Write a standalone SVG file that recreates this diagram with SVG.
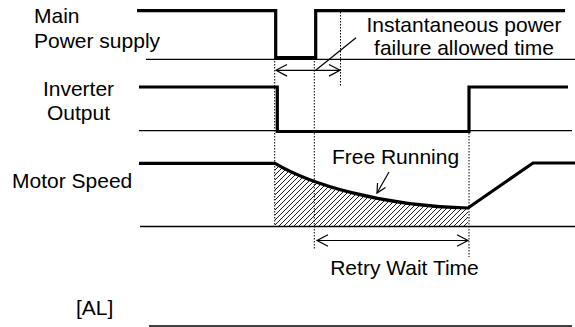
<svg xmlns="http://www.w3.org/2000/svg" width="575" height="327" viewBox="0 0 575 327">
<style>
text{font-family:"Liberation Sans",Arial,sans-serif;font-size:21px;fill:#000}
.thick{fill:none;stroke:#000;stroke-width:3.2;stroke-linejoin:miter}
.base{fill:none;stroke:#000;stroke-width:1.3}
.dot{fill:none;stroke:#000;stroke-width:1;stroke-dasharray:1.5,1.5}
.thin{fill:none;stroke:#000;stroke-width:1.2}
</style>
<defs>
<pattern id="hatch" patternUnits="userSpaceOnUse" width="5" height="5">
<path d="M-1,6 L6,-1 M-1,1 L1,-1 M4,6 L6,4" stroke="#000" stroke-width="0.9"/>
</pattern>
</defs>
<g id="labels">
<text x="34" y="23">Main</text>
<text x="34" y="48">Power supply</text>
<text x="78.5" y="96" text-anchor="middle">Inverter</text>
<text x="78.5" y="120" text-anchor="middle">Output</text>
<text x="12" y="188">Motor Speed</text>
<text x="76" y="315">[AL]</text>
<text x="464" y="32" text-anchor="middle">Instantaneous power</text>
<text x="464" y="55" text-anchor="middle">failure allowed time</text>
<text x="395.5" y="164" text-anchor="middle">Free Running</text>
<text x="404.5" y="275" text-anchor="middle">Retry Wait Time</text>
</g>
<g id="main-power">
<line class="base" x1="146" y1="59.3" x2="575" y2="59.3"/>
<path class="thick" d="M137,10.7 H275.7 V57.7 H315.7 V10.7 H565"/>
</g>
<g id="inverter-output">
<line class="base" x1="139" y1="130.7" x2="572" y2="130.7"/>
<path class="thick" d="M139,87 H277.3 V131.5 H469 V87 H568"/>
</g>
<g id="motor-speed">
<path d="M275,163 C310,184 380,206 468,208 V226.5 H275 Z" fill="url(#hatch)"/>
<line class="base" x1="140" y1="226.5" x2="575" y2="226.5"/>
<path class="thick" d="M139,163.3 H275 C310,184 380,206 468,208 L533,163 H575"/>
</g>
<g id="al">
<line x1="149" y1="326" x2="572" y2="326" stroke="#000" stroke-width="1.6"/>
</g>
<g id="connectors">
<line class="dot" x1="274.7" y1="58" x2="274.7" y2="226"/>
<line class="dot" x1="314.3" y1="58" x2="314.3" y2="250"/>
<line class="dot" x1="340.5" y1="12" x2="340.5" y2="87"/>
<line class="dot" x1="469" y1="133" x2="469" y2="257"/>
<line class="thin" x1="276" y1="70.3" x2="340" y2="70.3"/>
<path class="thin" d="M287,64.5 L276,70.3 L287,76.1 M329,64.5 L340,70.3 L329,76.1"/>
<line class="thin" x1="315.7" y1="70.3" x2="356" y2="37.7"/>
<line class="thin" x1="317" y1="240.5" x2="468" y2="240.5"/>
<path class="thin" d="M328,234.7 L317,240.5 L328,246.3 M457,234.7 L468,240.5 L457,246.3"/>
<line class="thin" x1="389" y1="172" x2="377" y2="193"/>
<path class="thin" d="M377.5,183 L377,193 L385.5,187.5"/>
</g>
</svg>
